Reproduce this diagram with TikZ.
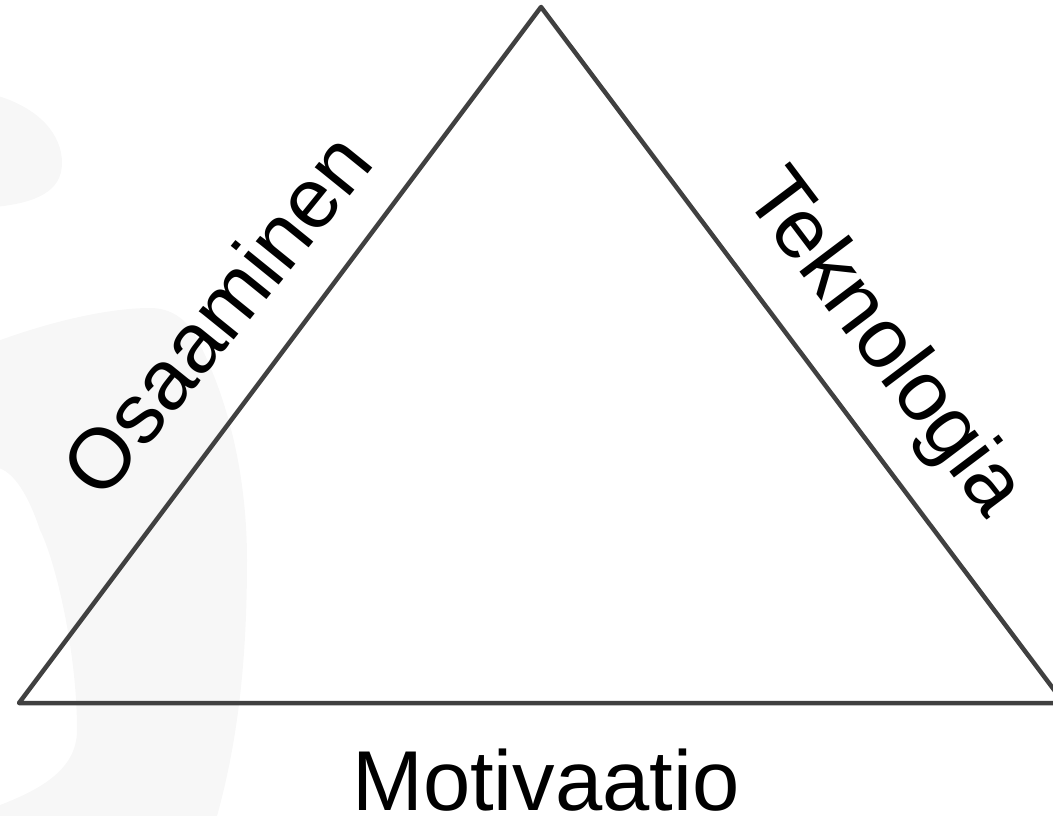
\documentclass[tikz,border=0pt]{standalone}
\usepackage{fontspec}
\setmainfont{Liberation Sans}
\usepackage{xcolor}
\definecolor{cLine}{HTML}{404040}
\definecolor{cText}{HTML}{000000}
\definecolor{cShade}{HTML}{F7F7F7}
\usepackage{tikz}
\usetikzlibrary{positioning}
\tikzset{
  tri-edge/.style={draw=cLine,line width=4.5pt,line join=round,line cap=round},
  side-label/.style={text=cText,inner sep=0pt,font=\fontsize{85}{100}\selectfont},
  % faint watermark shapes behind the triangle
  bg-shade/.style={fill=cShade,draw=none},
}

\begin{document}
\begin{tikzpicture}[x=1pt,y=-1pt]
  \useasboundingbox (0,0) rectangle (1053,816);
  % background
  \fill[bg-shade] (-5,95) .. controls (40,108) and (62,135) .. (62,163)
    .. controls (62,192) and (35,203) .. (-5,207) -- cycle;
  \fill[bg-shade] (-5,342) .. controls (60,318) and (115,308) .. (150,308)
    .. controls (170,308) and (185,318) .. (195,335)
    .. controls (230,400) and (247,480) .. (247,560)
    .. controls (247,650) and (240,740) .. (213,830) -- (-5,830) -- (-5,807)
    .. controls (40,790) and (77,770) .. (77,730)
    .. controls (77,650) and (55,560) .. (40,530)
    .. controls (30,500) and (15,470) .. (-5,467) -- cycle;
  % triangle
  \coordinate (apex) at (541,7);
  \coordinate (left) at (19,703);
  \coordinate (right) at (1064,703);
  \draw[tri-edge] (apex) -- (right) -- (left) -- cycle;
  % labels
  \node[side-label,rotate=51] (skill) at (216,314) {Osaaminen};
  \node[side-label,rotate=-53] (tech) at (882,345) {Teknologia};
  \node[side-label,anchor=base] (motiv) at (546,810) {Motivaatio};
\end{tikzpicture}
\end{document}
